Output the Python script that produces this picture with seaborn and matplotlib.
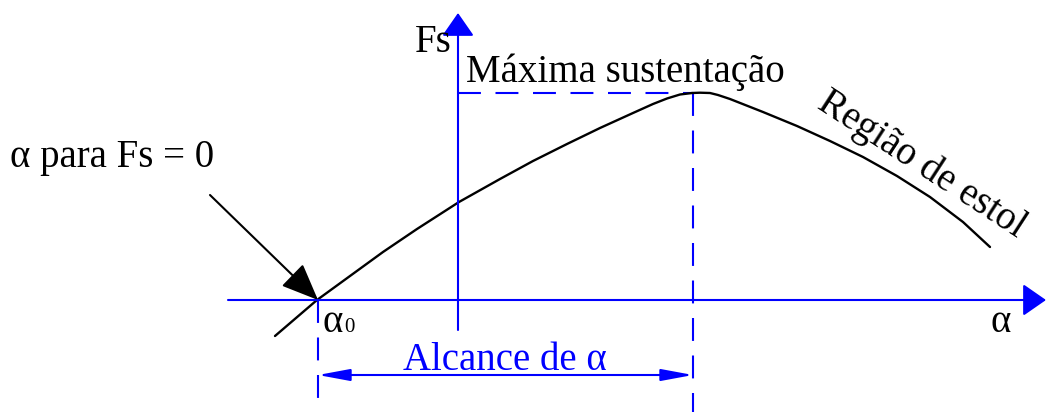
import numpy as np
import pandas as pd
import matplotlib
matplotlib.use("Agg")
import matplotlib.pyplot as plt
import seaborn as sns

# curva de sustentacao (alpha em px, Fs = altura acima do eixo em px)
alpha_curve = [275, 296, 317, 350, 383, 417, 459, 500, 533, 567, 600, 633, 653,
               667, 680, 692, 700, 710, 718, 730, 763, 797, 830, 863, 897,
               930, 963, 990]
fs_curve = [-36, -18, 0, 24, 48, 71, 98, 121, 139, 156, 172, 187, 196,
            201.5, 205.5, 207, 207.3, 207, 205, 201, 188, 174, 159, 143, 124,
            103, 78, 53]

alpha_zero = 318      # alpha para Fs = 0
alpha_max = 693       # alpha de maxima sustentacao
fs_max = 207
x_axis_pos = 458      # onde fica o eixo Fs

label_fs = "Fs"
label_alpha = "α"
label_max = "Máxima sustentação"
label_estol = "Região de estol"
label_zero = "α para Fs = 0"
label_range = "Alcance de α"

df = pd.DataFrame({"alpha": alpha_curve, "Fs": fs_curve})

sns.set_style("white")
plt.rcParams['font.family'] = ['Liberation Serif', 'DejaVu Serif']
plt.rcParams['text.color'] = 'black'

fig = plt.figure(figsize=(10.46, 4.12), dpi=100)
ax = fig.add_axes([0, 0, 1, 1])
ax.set_xlim(0, 1046)
ax.set_ylim(-112, 300)

blue = '#0000ff'

# eixos com setas
ax.annotate("", xy=(1046, 0), xytext=(228, 0),
            arrowprops=dict(arrowstyle="-|>,head_length=0.72,head_width=0.5",
                            color=blue, lw=1.5, mutation_scale=20,
                            shrinkA=0, shrinkB=0))
ax.annotate("", xy=(x_axis_pos, 287), xytext=(x_axis_pos, -30),
            arrowprops=dict(arrowstyle="-|>,head_length=0.72,head_width=0.5",
                            color=blue, lw=1.5, mutation_scale=20,
                            shrinkA=0, shrinkB=0))

# linhas tracejadas
dash = (0, (11, 7))
ax.plot([x_axis_pos, alpha_max], [fs_max, fs_max], color=blue, lw=1.5, linestyle=dash)
ax.plot([alpha_max, alpha_max], [fs_max, -112], color=blue, lw=1.5, linestyle=dash)
ax.plot([alpha_zero, alpha_zero], [0, -112], color=blue, lw=1.5, linestyle=dash)

# curva
sns.lineplot(data=df, x="alpha", y="Fs", sort=False, color="black", lw=1.7, ax=ax)
ax.axis('off')

# cota "Alcance de alpha"
ax.annotate("", xy=(alpha_max, -75), xytext=(alpha_zero, -75),
            arrowprops=dict(arrowstyle="<|-|>,head_length=0.97,head_width=0.18",
                            color=blue, lw=1.5, mutation_scale=20,
                            shrinkA=0, shrinkB=0))
ax.text(403, -70, label_range, color=blue, fontsize=28, ha='left', va='baseline')

# seta preta para alpha0
ax.annotate("", xy=(alpha_zero, 0), xytext=(210, 105),
            arrowprops=dict(arrowstyle="-|>,head_length=1.15,head_width=0.48",
                            color="black", lw=1.5, mutation_scale=20,
                            shrinkA=0, shrinkB=0))

# textos
ax.text(10, 133, label_zero, color='black', fontsize=28, ha='left', va='baseline')
ax.text(415, 248, label_fs, color='black', fontsize=28, ha='left', va='baseline')
ax.text(466, 218, label_max, color='black', fontsize=28, ha='left', va='baseline')
ax.text(922, 135, label_estol, color='black', fontsize=28, ha='center', va='center',
        rotation=-33, rotation_mode='anchor')
ax.text(323, -32, label_alpha, color='black', fontsize=28, ha='left', va='baseline')
ax.text(344, -32, "0", color='black', fontsize=15, ha='left', va='baseline')
ax.text(990, -32, label_alpha, color='black', fontsize=28, ha='left', va='baseline')

fig.savefig("out.png", dpi=100)
